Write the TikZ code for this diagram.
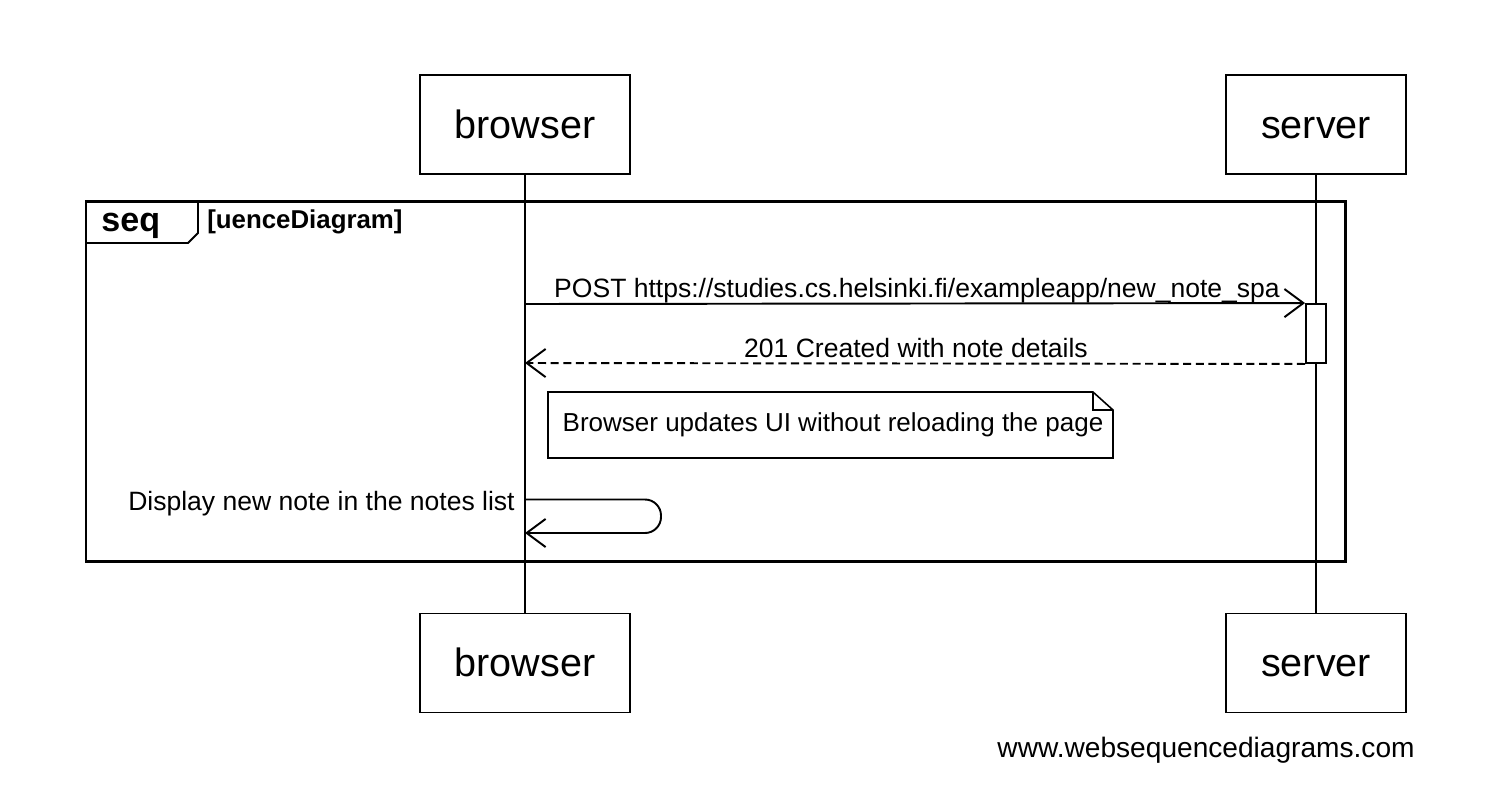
\documentclass[tikz,border=0pt]{standalone}
\usepackage{fontspec}
\setmainfont{Liberation Sans}
\usetikzlibrary{arrows.meta}
\begin{document}
\begin{tikzpicture}[x=0.02cm,y=-0.02cm,
  actor/.style={draw, line width=1.1pt, minimum height=1.98cm, inner sep=0pt,
    font=\fontsize{22.5}{27}\selectfont, text height=0.54cm, text depth=0pt},
  life/.style={line width=1.1pt},
  msg/.style={line width=1.1pt, -{Straight Barb[length=10.8pt,width=16pt,line width=1.1pt]}},
  ret/.style={msg, dash pattern=on 4.6pt off 2.6pt},
  lbl/.style={font=\fontsize{15.1}{18}\selectfont, inner sep=0pt},
  notelbl/.style={font=\fontsize{14.8}{18}\selectfont, inner sep=0pt},
  frameline/.style={line width=1.7pt},
  thin/.style={line width=0.9pt}
]
\useasboundingbox (0,0) rectangle (1502,802);

% actors
\node[actor, minimum width=4.2cm] (bt) at (525,124.5) {browser};
\node[actor, minimum width=3.6cm] (st) at (1316,124.5) {server};
\node[actor, minimum width=4.2cm] (bb) at (525,663) {browser};
\node[actor, minimum width=3.6cm] (sb) at (1316,663) {server};

% lifelines
\draw[life] (bt.south) -- (bb.north);
\draw[life] (st.south) -- (sb.north);

% frame
\draw[frameline] (86,201) rectangle (1345,561);
\draw[line width=1.1pt] (86,243) -- (188,243) -- (198,233) -- (198,201);
\node[font=\bfseries\fontsize{19.4}{23}\selectfont, inner sep=0pt, anchor=base west] (seqlbl) at (101,231) {seq};
\node[font=\bfseries\fontsize{14.7}{17}\selectfont, inner sep=0pt, anchor=base west] (seqname) at (207,228) {[uenceDiagram]};

% activation
\node[draw, fill=white, line width=1.1pt, minimum width=0.4cm, minimum height=1.18cm, inner sep=0pt] (act) at (1316,333.5) {};

% messages
\coordinate (postS) at (525,304);
\coordinate (retE) at (525,363);
\draw[msg] (postS) -- (act.north west);
\node[lbl, anchor=base] (postlbl) at (917,297) {POST https://studies.cs.helsinki.fi/exampleapp/new\_note\_spa};
\draw[ret] (act.south west) -- (retE);
\node[lbl, anchor=base] (retlbl) at (916,357) {201 Created with note details};

% note
\draw[thin, fill=white] (548,392) -- (1093,392) -- (1113,410) -- (1113,458) -- (548,458) -- cycle;
\draw[thin] (1093,392) -- (1093,410) -- (1113,410);
\node[notelbl, anchor=base] (notetxt) at (833,431) {Browser updates UI without reloading the page};

% self message
\coordinate (selfS) at (525,499.5);
\coordinate (selfE) at (525,533);
\draw[msg, rounded corners=0.32cm] (selfS) -- (661,499.5) -- (661,533) -- (selfE);
\node[lbl, anchor=base east] (selflbl) at (515,510) {Display new note in the notes list};

% watermark
\node[font=\fontsize{16}{19}\selectfont, inner sep=0pt, anchor=base east] (wm) at (1415,757) {www.websequencediagrams.com};
\end{tikzpicture}
\end{document}
